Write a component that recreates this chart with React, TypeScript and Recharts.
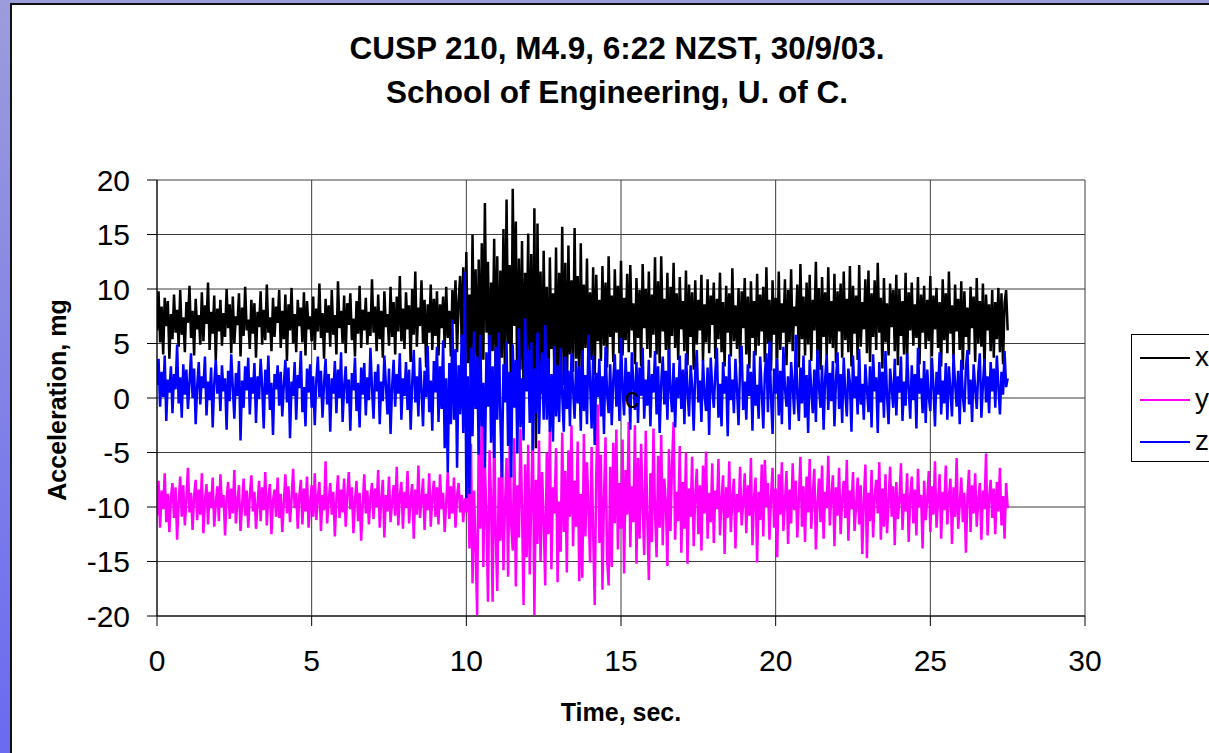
import { CartesianGrid, Line, LineChart, XAxis, YAxis } from 'recharts'

// acceleration in mg, one sample every 0.05 s (20 per line = 1 s)
const SAMPLE_STEP = 0.05

const accX = [
  6.2, 9.8, 5.1, 8.4, 4.0, 9.2, 6.6, 8.9, 3.6, 7.7, 5.4, 9.5, 6.0, 8.1, 4.7, 9.9, 5.8, 7.4, 4.2, 8.8,
  6.9, 10.3, 5.5, 8.0, 3.9, 9.1, 6.3, 7.6, 4.9, 9.7, 5.2, 8.5, 6.8, 10.6, 4.4, 7.9, 5.9, 9.4, 3.5, 8.2,
  6.1, 9.0, 4.8, 7.8, 5.6, 10.0, 6.4, 8.6, 4.1, 9.3, 5.0, 7.5, 6.7, 9.6, 3.8, 8.3, 5.7, 10.2, 6.2, 7.2,
  4.5, 9.0, 5.9, 8.7, 3.7, 7.9, 6.5, 9.8, 4.9, 8.1, 5.3, 10.4, 6.0, 7.4, 4.3, 9.2, 5.6, 8.4, 6.9, 9.9,
  4.6, 8.0, 5.4, 9.5, 3.4, 8.6, 6.2, 10.1, 5.0, 7.7, 4.2, 9.0, 6.6, 8.3, 5.1, 9.7, 3.9, 8.9, 6.3, 7.5,
  5.2, 9.3, 4.4, 8.2, 6.1, 10.5, 5.5, 7.8, 3.6, 9.1, 6.0, 8.5, 4.7, 9.9, 5.8, 7.6, 4.0, 10.7, 6.4, 8.0,
  5.0, 9.4, 4.1, 8.7, 6.7, 9.6, 5.3, 7.3, 3.8, 8.9, 5.9, 10.3, 4.6, 8.1, 6.2, 9.2, 4.9, 7.9, 5.7, 10.9,
  6.0, 8.4, 4.3, 9.5, 5.4, 8.0, 3.7, 9.8, 6.5, 7.7, 4.8, 10.2, 5.6, 8.8, 4.0, 9.3, 6.1, 11.2, 5.2, 8.2,
  4.5, 9.7, 6.3, 8.5, 3.3, 10.0, 5.8, 11.6, 4.7, 8.3, 6.6, 10.8, 5.0, 9.0, 2.8, 8.6, 6.0, 10.4, 4.4, 9.1,
  5.7, 9.8, 3.9, 8.6, 6.4, 9.3, 4.6, 10.2, 5.5, 8.0, 3.8, 9.9, 6.8, 10.8, 4.2, 8.9, 11.2, 5.0, 12.0, 4.1,
  13.4, 3.2, 9.5, 1.0, 15.0, 4.0, 11.8, 0.8, 12.7, 2.5, 14.2, 3.5, 17.9, 6.0, 12.5, 1.8, 10.6, 4.3, 14.6, 2.2,
  13.0, 0.5, 11.7, 3.7, 15.5, 1.2, 18.2, 5.0, 12.2, -1.5, 19.2, 6.6, 16.2, -0.9, 12.8, 2.6, 14.4, 0.2, 11.5, 3.8,
  15.1, 1.4, 13.2, -2.2, 17.4, -4.6, 16.0, 2.0, 11.6, 0.4, 13.5, 3.1, 10.2, -1.0, 12.9, 4.5, 9.6, 1.5, 13.8, 0.8,
  11.5, 3.0, 15.7, 1.2, 12.4, -0.6, 14.0, 4.0, 10.8, 2.4, 15.6, 3.6, 11.2, 0.9, 14.2, 2.8, 10.4, 4.6, 12.8, 2.1,
  9.7, 3.5, 12.0, 2.1, 11.3, 5.2, 9.0, 3.4, 12.1, 4.8, 10.6, 2.8, 13.0, 5.6, 9.4, 3.3, 11.8, 6.0, 10.3, 4.1,
  12.6, 3.9, 9.2, 5.3, 11.4, 4.2, 12.2, 6.2, 8.7, 3.1, 11.0, 5.5, 9.9, 2.9, 12.3, 6.4, 10.0, 4.5, 11.6, 3.7,
  9.5, 5.8, 12.9, 4.0, 10.7, 3.2, 13.0, 6.1, 9.1, 4.4, 11.5, 2.8, 10.2, 5.7, 12.4, 4.6, 9.6, 3.5, 11.1, 6.3,
  8.9, 4.3, 11.7, 3.0, 10.4, 5.6, 9.7, 2.6, 10.8, 4.9, 9.0, 6.2, 11.3, 3.4, 8.6, 5.1, 10.9, 4.1, 9.4, 6.7,
  10.6, 3.6, 9.1, 5.4, 11.5, 4.2, 8.8, 2.9, 10.3, 6.0, 9.6, 3.8, 11.9, 5.2, 8.5, 4.5, 10.1, 3.1, 9.8, 6.4,
  11.0, 4.0, 9.3, 2.7, 10.7, 5.5, 8.9, 3.9, 11.4, 4.8, 9.5, 6.1, 10.2, 3.3, 12.0, 5.0, 9.0, 2.5, 10.8, 5.8,
  9.2, 3.6, 11.6, 4.4, 8.7, 6.0, 10.9, 3.0, 9.9, 5.1, 11.8, 4.3, 8.4, 6.6, 10.4, 2.8, 12.3, 5.4, 9.3, 3.9,
  10.6, 4.9, 11.3, 3.4, 9.0, 6.2, 12.5, 4.0, 10.1, 2.6, 11.1, 5.6, 9.7, 3.8, 12.0, 5.0, 8.9, 4.6, 11.4, 3.2,
  9.8, 6.1, 10.5, 3.7, 11.6, 5.3, 9.1, 4.2, 12.1, 2.9, 10.3, 5.9, 9.4, 3.5, 12.2, 4.7, 8.8, 6.3, 10.9, 4.1,
  11.7, 3.3, 9.6, 5.6, 10.8, 4.4, 12.4, 6.0, 9.2, 2.7, 11.0, 5.1, 8.7, 3.9, 10.5, 6.5, 9.9, 4.3, 11.3, 3.0,
  10.0, 5.7, 8.9, 4.0, 11.5, 3.4, 9.7, 6.2, 10.6, 4.8, 8.6, 5.5, 11.1, 3.1, 9.5, 6.0, 10.3, 4.5, 9.0, 5.2,
  11.2, 3.8, 9.4, 6.3, 10.1, 4.6, 8.8, 2.9, 10.9, 5.3, 9.6, 4.1, 11.6, 5.9, 8.5, 3.6, 10.4, 6.1, 9.1, 4.4,
  10.7, 2.6, 9.8, 5.6, 8.3, 4.0, 10.2, 6.4, 9.3, 3.3, 11.0, 5.0, 8.9, 4.7, 10.5, 2.4, 9.5, 6.2, 8.6, 4.3,
  9.9, 3.7, 8.8, 5.4, 10.1, 4.2, 9.6, 3.1, 8.7, 9.9, 6.2,
]

const accY = [
  -10.8, -7.6, -11.9, -8.5, -10.2, -6.9, -11.4, -8.8, -12.3, -9.1, -7.8, -11.0, -8.2, -13.0, -9.6, -7.2, -10.9, -8.0, -11.7, -9.3,
  -6.4, -10.5, -8.7, -12.1, -9.0, -7.5, -11.2, -8.4, -10.7, -6.9, -12.4, -9.4, -7.9, -11.6, -8.6, -10.1, -7.3, -11.8, -9.7, -8.1,
  -11.3, -7.0, -10.0, -8.9, -12.6, -9.2, -7.7, -11.1, -8.3, -10.6, -6.6, -11.5, -9.5, -8.0, -12.2, -9.9, -7.4, -10.8, -8.5, -11.9,
  -9.0, -7.1, -10.4, -8.6, -12.0, -9.8, -7.6, -11.3, -8.2, -10.3, -6.8, -11.7, -9.1, -7.9, -12.5, -9.4, -8.4, -10.9, -7.3, -11.0,
  -8.8, -12.3, -9.6, -7.0, -10.6, -8.1, -11.4, -9.3, -6.5, -10.1, -8.7, -12.0, -9.0, -7.5, -11.6, -8.3, -10.4, -7.2, -11.9, -9.7,
  -8.0, -10.9, -6.9, -11.2, -9.1, -7.7, -12.2, -8.9, -10.3, -5.8, -11.5, -9.4, -7.8, -10.7, -8.6, -12.7, -9.2, -7.1, -11.0, -8.4,
  -10.5, -7.4, -11.8, -9.0, -6.8, -10.2, -8.2, -12.4, -9.5, -7.6, -11.3, -8.7, -13.1, -9.8, -7.0, -10.6, -8.5, -11.6, -9.1, -7.8,
  -11.1, -8.3, -10.0, -6.6, -11.9, -9.3, -7.5, -12.8, -8.9, -10.4, -7.2, -11.4, -9.6, -8.0, -10.8, -6.3, -11.7, -9.0, -7.7, -12.0,
  -8.6, -10.1, -6.7, -11.5, -9.2, -7.9, -12.9, -8.4, -10.7, -6.2, -11.0, -9.4, -7.4, -12.1, -8.8, -10.3, -6.9, -11.8, -9.1, -7.6,
  -10.9, -8.2, -11.6, -7.0, -10.2, -8.7, -12.3, -9.5, -6.8, -11.1, -8.1, -10.6, -7.3, -11.9, -9.0, -7.8, -10.5, -8.9, -11.4, -9.2,
  -10.5, -6.0, -13.8, -4.2, -17.0, -8.5, -14.0, -19.9, -3.5, -12.0, -0.9, -15.5, -6.2, -10.8, -18.7, -4.8, -9.4, -18.7, -2.0, -12.6,
  -17.7, -7.3, -13.1, -3.0, -15.8, -9.9, -5.5, -16.4, -4.4, -11.6, -14.0, -3.7, -17.3, -8.0, -12.8, -2.8, -10.2, -19.0, -6.1, -14.6,
  -4.3, -16.2, -9.0, -2.6, -19.9, -7.5, -13.4, -3.9, -15.0, -6.8, -11.2, -17.2, -5.0, -12.5, -2.9, -15.7, -8.2, -10.6, -4.6, -16.9,
  -9.5, -14.1, -3.2, -12.3, -6.7, -16.0, -4.8, -10.9, -2.5, -13.6, -7.6, -11.8, -4.0, -16.8, -8.8, -16.5, -3.3, -12.7, -5.9, -10.2,
  -15.1, -4.5, -12.4, -19.0, -7.0, -0.6, -13.3, -5.2, -17.6, -9.1, -3.6, -14.8, -17.2, -6.3, -15.5, -4.1, -11.5, -2.9, -13.9, -7.8,
  -12.0, -3.8, -16.1, -6.6, -10.7, -2.2, -13.7, -8.1, -11.4, -2.5, -15.2, -5.5, -12.9, -4.2, -9.8, -14.4, -3.0, -11.0, -16.7, -6.9,
  -13.2, -2.8, -10.4, -14.6, -5.3, -11.9, -3.4, -13.5, -7.4, -9.6, -15.4, -4.7, -12.2, -6.0, -2.2, -13.0, -8.6, -11.3, -4.4, -14.2,
  -7.7, -12.0, -5.0, -15.2, -8.3, -10.9, -5.4, -13.6, -9.0, -6.5, -12.5, -8.0, -14.0, -6.2, -10.6, -4.9, -12.9, -8.7, -11.4, -6.0,
  -13.3, -8.5, -10.2, -5.6, -12.6, -9.4, -7.1, -14.3, -8.2, -11.0, -5.8, -12.3, -9.1, -7.4, -13.8, -8.8, -10.5, -6.3, -11.7, -9.6,
  -6.9, -12.4, -8.0, -10.8, -5.5, -13.5, -9.2, -7.3, -15.1, -8.6, -11.2, -6.1, -12.7, -5.7, -10.0, -7.8, -13.0, -9.0, -6.4, -11.9,
  -8.3, -14.6, -7.0, -10.7, -5.9, -12.2, -9.5, -6.7, -13.4, -8.4, -11.5, -6.0, -10.3, -7.6, -12.8, -9.3, -5.4, -11.8, -8.1, -13.2,
  -7.2, -10.5, -5.6, -12.0, -8.9, -6.5, -13.9, -9.7, -7.4, -11.4, -6.2, -12.9, -8.6, -10.1, -5.3, -11.7, -9.0, -7.1, -13.6, -8.2,
  -10.8, -6.4, -12.5, -9.3, -7.6, -11.0, -5.7, -13.1, -8.5, -10.2, -6.8, -12.2, -9.9, -7.3, -11.6, -8.0, -14.3, -9.4, -6.1, -14.7,
  -8.7, -11.3, -6.6, -12.8, -9.1, -7.5, -10.6, -5.9, -13.0, -8.3, -11.8, -7.0, -12.4, -9.6, -6.3, -10.9, -8.1, -13.5, -7.7, -11.1,
  -9.4, -6.0, -12.1, -8.8, -10.4, -6.9, -13.2, -9.0, -7.2, -11.5, -8.4, -12.6, -6.5, -10.0, -8.9, -13.8, -7.6, -11.2, -9.3, -6.7,
  -12.3, -8.1, -10.7, -5.8, -11.9, -9.5, -7.0, -12.9, -8.6, -10.3, -6.2, -11.6, -9.1, -7.4, -13.4, -8.2, -10.9, -5.5, -12.0, -9.8,
  -7.3, -11.4, -8.7, -14.2, -9.0, -6.6, -12.3, -8.0, -10.6, -6.9, -11.8, -9.4, -7.8, -13.0, -8.5, -10.2, -5.1, -12.6, -9.2, -7.5,
  -11.0, -8.3, -12.5, -7.7, -10.4, -6.4, -11.7, -9.0, -12.9, -7.8, -10.1,
]

const accZ = [
  1.2, 3.6, -0.8, 2.4, 0.1, 3.9, -2.1, 1.7, 0.5, 2.9, -1.4, 2.2, 0.8, 4.9, -0.5, 1.9, -1.8, 3.1, 0.3, 2.6,
  -1.0, 1.4, 4.1, 0.0, 2.7, -2.4, 1.1, 3.3, -0.6, 2.0, 0.9, 3.8, -1.6, 1.5, -0.2, 2.8, -2.7, 1.3, 3.5, 0.4,
  2.1, -1.2, 3.0, 0.6, 1.8, -2.9, 2.5, -0.3, 4.0, 1.0, -1.9, 2.3, 0.2, 3.4, -3.9, 1.6, -0.9, 2.9, 0.7, 3.7,
  -1.5, 1.9, 0.4, 3.2, -2.3, 2.0, -0.1, 3.6, 1.1, -2.8, 2.6, 0.3, 3.9, -1.1, 1.4, -3.4, 2.2, 0.8, 3.0, -0.7,
  2.4, -1.7, 1.2, 3.5, -0.4, 2.8, -3.7, 1.5, 0.2, 3.3, -2.0, 2.1, 0.9, 4.3, -1.3, 1.0, -2.6, 2.7, 0.5, 3.1,
  -0.9, 2.0, -2.5, 1.6, 3.8, 0.1, 2.5, -1.8, 1.3, 3.6, -0.6, 2.2, -3.1, 1.8, 0.4, 3.4, -1.4, 2.6, 0.0, 4.2,
  -2.2, 1.1, 2.9, -0.5, 1.7, -3.0, 2.3, 0.7, 3.7, -1.2, 1.4, -2.7, 2.8, 0.3, 3.2, -1.6, 1.9, -0.2, 4.6, 0.9,
  -1.9, 2.4, 0.6, 3.1, -2.4, 1.5, -0.3, 3.9, 1.2, -1.5, 2.7, -3.3, 1.0, 3.5, -0.8, 2.2, 0.4, 4.1, -2.0, 1.8,
  0.2, 3.3, -1.1, 2.6, -2.9, 1.4, 4.4, -0.4, 2.0, -1.7, 3.7, 0.8, -2.6, 2.5, 0.1, 4.8, -1.3, 1.6, -3.0, 3.4,
  0.5, 4.7, -2.2, 2.9, -1.0, 5.3, -4.6, 1.8, -6.8, 3.2, -2.4, 7.2, -2.0, 4.5, -6.4, 3.0, -1.5, 5.8, -3.2, 11.6,
  -9.2, 2.0, -8.8, 4.6, -3.5, 6.1, -1.0, 3.8, -5.2, 5.8, -2.6, 1.4, -6.4, 4.2, -0.8, 5.8, -4.1, 2.9, -5.5, 4.7,
  -2.0, 6.0, -1.8, -7.3, 3.1, -0.4, 5.2, -4.4, 2.4, -7.3, 4.9, -0.9, 3.5, -5.1, 6.4, -2.7, 1.8, -3.9, 7.3, 0.6,
  4.4, -2.3, 5.1, -4.8, 2.7, -1.4, 6.0, -3.3, 1.9, 4.2, -2.0, 6.7, -2.0, 3.6, -3.1, 2.2, -4.0, 4.8, -1.7, 3.0,
  -2.2, 4.6, 0.3, -3.1, 3.8, -1.0, 2.5, -2.6, 4.1, 0.8, -1.9, 3.4, -0.5, 2.9, -3.0, 4.4, -1.2, 2.1, -2.4, 5.8,
  1.5, -2.8, 3.9, -4.3, 2.3, 0.1, 3.6, -1.7, 2.0, -3.3, 4.7, 0.4, -1.4, 3.1, -2.5, 1.6, 4.0, -0.8, 2.6, -2.1,
  5.5, 0.9, -1.6, 3.7, -0.3, 2.4, -2.9, 4.2, 1.2, -1.1, 3.3, -2.3, 2.8, 0.2, 4.6, -1.9, 1.7, -0.7, 3.5, -2.6,
  2.2, 0.5, 4.3, -1.5, 2.9, -3.2, 1.4, 3.8, -0.6, 2.5, -2.0, 4.5, 0.7, -1.3, 3.2, -2.7, 1.9, 0.0, 3.9, -1.0,
  2.6, -2.4, 4.1, 0.6, -1.7, 3.0, 1.1, -3.0, 2.3, 4.4, -0.4, 1.6, -2.2, 3.5, 0.3, -1.2, 2.8, -3.4, 3.7, 0.9,
  -0.9, 2.4, 4.6, -1.8, 1.3, -2.6, 3.3, 0.4, 2.0, -3.5, 4.0, -0.2, 1.7, -1.4, 3.6, 0.8, -2.5, 2.9, 4.8, -1.1,
  1.5, -2.0, 3.1, 0.2, 2.4, -3.0, 4.3, -0.7, 1.2, -1.9, 3.8, 0.6, -2.8, 2.2, 4.1, -1.3, 5.2, 0.1, -3.3, 2.7,
  0.4, 3.6, -1.6, 2.5, -2.4, 4.7, 0.9, -0.8, 2.0, -2.9, 3.3, 1.1, -1.5, 5.8, 0.3, -2.1, 2.8, -0.5, 3.9, -1.8,
  2.1, -3.2, 3.5, 0.7, -1.4, 2.6, -2.2, 4.4, 1.0, -0.9, 3.0, -2.9, 1.8, 4.0, -1.1, 2.3, -0.3, 3.4, -2.6, 1.6,
  4.2, -1.0, 2.2, -2.3, 3.7, 0.5, -1.7, 2.7, 1.4, -3.1, 3.9, 0.0, 2.0, -1.5, 4.5, -0.6, 1.3, -2.0, 3.1, 0.8,
  -1.3, 2.9, -2.7, 4.0, 0.6, 1.9, -3.2, 3.3, -0.4, 2.4, -1.8, 4.3, 0.2, -2.4, 2.7, 1.0, -0.9, 3.6, -1.6, 2.0,
  0.5, 3.8, -2.1, 1.5, -0.7, 4.1, 0.9, -1.9, 3.0, -0.2, 2.2, -2.8, 4.6, 0.4, 1.8, -1.4, 3.4, -2.3, 2.6, 0.1,
  -1.2, 3.7, 1.1, -2.6, 2.4, 0.3, 4.2, -1.5, 1.6, -0.5, 3.2, -2.0, 2.9, 0.7, -1.7, 4.0, 1.3, -0.8, 2.5, -2.4,
  3.5, 0.2, -1.3, 2.8, 4.4, -0.6, 1.7, -2.2, 3.1, 0.9, -1.0, 2.3, 4.1, -1.8, 1.2, 3.6, -0.4, 2.0, -1.4, 3.3,
  0.6, 2.7, -0.9, 3.9, 1.1, -1.5, 2.4, 0.3, 4.3, 1.0, 1.8,
]

const xTicks = [0, 5, 10, 15, 20, 25, 30]
const yTicks = [-20, -15, -10, -5, 0, 5, 10, 15, 20]

const seriesKeys = ['x', 'y', 'z']
const seriesColors = ['#000000', '#ff00ff', '#0000ff']

const titleLines = ['CUSP 210, M4.9, 6:22 NZST, 30/9/03.', 'School of Engineering, U. of C.']

const FONT = "'Liberation Sans', Arial, Helvetica, sans-serif"

const sampleCount = Math.max(accX.length, accY.length, accZ.length)
const rows = Array.from({ length: sampleCount }, (_, i) => ({
  t: Math.round(i * SAMPLE_STEP * 100) / 100,
  x: accX[i],
  y: accY[i],
  z: accZ[i],
}))

export default function App() {
  return (
    <div
      style={{
        position: 'absolute',
        left: 0,
        top: 0,
        width: 1209,
        height: 753,
        overflow: 'hidden',
        background: 'linear-gradient(180deg, #9c9cdc 0%, #6a6af2 100%)',
        fontFamily: FONT,
      }}
    >
      {/* slide panel */}
      <div
        style={{
          position: 'absolute',
          left: 10,
          top: 3,
          width: 1230,
          height: 780,
          background: '#fff',
          borderLeft: '2px solid #111',
          borderTop: '2px solid #111',
        }}
      />

      <div style={{ position: 'absolute', left: 0, top: 0 }}>
        <LineChart
          width={1209}
          height={753}
          data={rows}
          margin={{ top: 180, right: 124, bottom: 97, left: 97 }}
        >
          <CartesianGrid stroke="#3c3c3c" strokeWidth={1} />
          <XAxis
            dataKey="t"
            type="number"
            domain={[0, 30]}
            ticks={xTicks}
            height={40}
            tickSize={10}
            tickMargin={24}
            axisLine={{ stroke: '#000' }}
            tickLine={{ stroke: '#000' }}
            tick={{ fill: '#000', fontSize: 30, fontFamily: FONT }}
            allowDataOverflow
          />
          <YAxis
            type="number"
            domain={[-20, 20]}
            ticks={yTicks}
            width={60}
            tickSize={10}
            tickMargin={17}
            axisLine={{ stroke: '#000' }}
            tickLine={{ stroke: '#000' }}
            tick={{ fill: '#000', fontSize: 30, fontFamily: FONT }}
            allowDataOverflow
          />
          {seriesKeys.map((key, i) => (
            <Line
              key={key}
              dataKey={key}
              type="linear"
              stroke={seriesColors[i]}
              strokeWidth={2.5}
              dot={false}
              isAnimationActive={false}
            />
          ))}
        </LineChart>
      </div>

      <svg
        width={1209}
        height={753}
        style={{ position: 'absolute', left: 0, top: 0, pointerEvents: 'none' }}
        fontFamily={FONT}
      >
        {titleLines.map((line, i) => (
          <text
            key={line}
            x={617}
            y={59 + i * 44}
            textAnchor="middle"
            fontSize={31.5}
            fontWeight="bold"
            fill="#000"
          >
            {line}
          </text>
        ))}
        <text x={621} y={721} textAnchor="middle" fontSize={25} fontWeight="bold">
          Time, sec.
        </text>
        <text
          x={66}
          y={400}
          textAnchor="middle"
          fontSize={25}
          fontWeight="bold"
          transform="rotate(-90 66 400)"
        >
          Acceleration, mg
        </text>
        <text x={632} y={408} textAnchor="middle" fontSize={29}>
          c
        </text>

        {/* legend */}
        <rect x={1131.5} y={334.5} width={120} height={127} fill="#fff" stroke="#000" />
        {seriesKeys.map((key, i) => (
          <g key={key}>
            <line
              x1={1140}
              x2={1190}
              y1={358 + i * 42}
              y2={358 + i * 42}
              stroke={seriesColors[i]}
              strokeWidth={2}
            />
            <text x={1195} y={366 + i * 42} fontSize={28} fill="#000">
              {key}
            </text>
          </g>
        ))}
      </svg>
    </div>
  )
}
